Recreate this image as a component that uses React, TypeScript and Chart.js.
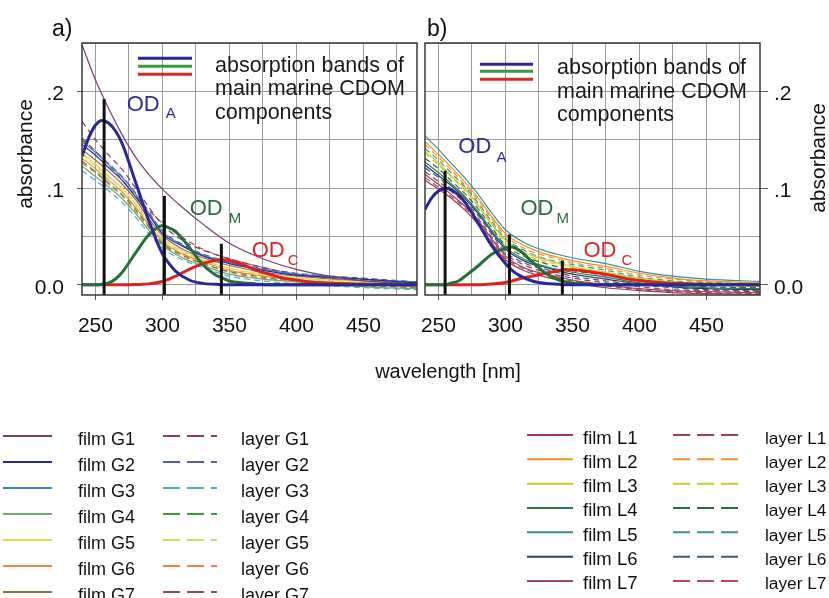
import React, { useEffect, useRef } from "react";
import { Chart, registerables } from "chart.js";

Chart.register(...registerables);

const FONT = "'Liberation Sans', Arial, Helvetica, sans-serif";

// ---------- axes ----------
const X_MIN = 240;
const X_MAX = 490;
const Y_MIN = -0.0105;
const Y_MAX = 0.25;
const X_TICKS = [250, 275, 300, 325, 350, 375, 400, 425, 450, 475];
const Y_TICKS = [0, 0.05, 0.1, 0.15, 0.2, 0.25];
const Y_TICK_LABELS = ["0.0", "", ".1", "", ".2", ""];

// ---------- wavelengths ----------
const WL = [240, 250, 260, 270, 280, 290, 300, 315, 330, 350, 375, 400, 425, 450, 490];
const BAND_WL = [240, 245, 250, 255, 260, 265, 270, 280, 290, 300, 305, 310, 320, 330, 340, 345, 350, 360, 370, 380, 390, 400, 410, 420, 430, 440, 460, 490];

// ---------- panel a: spectra ----------
const filmG1 = [0.248, 0.212, 0.182, 0.155, 0.132, 0.114, 0.099, 0.08, 0.063, 0.043, 0.027, 0.016, 0.009, 0.004, 0.001];
const filmG2 = [0.145, 0.134, 0.121, 0.108, 0.091, 0.072, 0.053, 0.04, 0.03, 0.022, 0.015, 0.01, 0.008, 0.006, 0.002];
const filmG3 = [0.148, 0.137, 0.124, 0.111, 0.094, 0.074, 0.055, 0.041, 0.031, 0.023, 0.016, 0.011, 0.009, 0.006, 0.003];
const filmG4 = [0.123, 0.112, 0.101, 0.089, 0.074, 0.056, 0.041, 0.028, 0.02, 0.011, 0.006, 0.003, 0.001, -0.002, -0.004];
const filmG5 = [0.136, 0.125, 0.112, 0.1, 0.084, 0.065, 0.048, 0.035, 0.026, 0.017, 0.011, 0.007, 0.005, 0.003, -0.001];
const filmG6 = [0.131, 0.12, 0.108, 0.096, 0.08, 0.062, 0.045, 0.032, 0.024, 0.015, 0.009, 0.005, 0.003, 0.001, -0.002];
const filmG7 = [0.14, 0.129, 0.117, 0.104, 0.088, 0.068, 0.051, 0.037, 0.028, 0.02, 0.013, 0.009, 0.006, 0.004, 0.001];
const layerG1 = [0.169, 0.15, 0.134, 0.119, 0.1, 0.08, 0.062, 0.046, 0.036, 0.027, 0.018, 0.011, 0.007, 0.005, 0.003];
const layerG2 = [0.15, 0.138, 0.125, 0.112, 0.095, 0.075, 0.056, 0.042, 0.032, 0.024, 0.017, 0.012, 0.009, 0.007, 0.003];
const layerG3 = [0.118, 0.108, 0.097, 0.085, 0.07, 0.053, 0.038, 0.026, 0.018, 0.009, 0.004, 0.001, -0.001, -0.003, -0.005];
const layerG4 = [0.128, 0.117, 0.105, 0.093, 0.078, 0.06, 0.043, 0.031, 0.022, 0.014, 0.008, 0.004, 0.002, 0.0, -0.003];
const layerG5 = [0.134, 0.123, 0.111, 0.099, 0.083, 0.064, 0.047, 0.034, 0.025, 0.017, 0.01, 0.007, 0.004, 0.002, -0.001];
const layerG6 = [0.126, 0.116, 0.104, 0.092, 0.076, 0.059, 0.042, 0.03, 0.022, 0.013, 0.007, 0.004, 0.002, -0.001, -0.003];
const layerG7 = [0.152, 0.138, 0.124, 0.108, 0.092, 0.077, 0.064, 0.049, 0.037, 0.027, 0.018, 0.011, 0.007, 0.004, 0.002];

// ---------- panel b: spectra ----------
const filmL1 = [0.108, 0.099, 0.089, 0.077, 0.062, 0.043, 0.026, 0.014, 0.008, 0.002, -0.003, -0.006, -0.008, -0.009, -0.01];
const filmL2 = [0.148, 0.135, 0.121, 0.106, 0.089, 0.07, 0.053, 0.04, 0.032, 0.025, 0.019, 0.012, 0.007, 0.004, 0.002];
const filmL3 = [0.138, 0.126, 0.112, 0.099, 0.082, 0.063, 0.046, 0.033, 0.026, 0.019, 0.013, 0.007, 0.003, 0.001, -0.001];
const filmL4 = [0.127, 0.116, 0.104, 0.091, 0.075, 0.056, 0.039, 0.026, 0.019, 0.013, 0.008, 0.002, -0.001, -0.003, -0.004];
const filmL5 = [0.154, 0.14, 0.125, 0.11, 0.093, 0.074, 0.057, 0.043, 0.035, 0.028, 0.022, 0.014, 0.009, 0.006, 0.0035];
const filmL6 = [0.124, 0.113, 0.102, 0.089, 0.073, 0.054, 0.037, 0.024, 0.018, 0.011, 0.006, 0.001, -0.002, -0.004, -0.005];
const filmL7 = [0.114, 0.104, 0.093, 0.081, 0.066, 0.047, 0.03, 0.017, 0.011, 0.005, 0.0, -0.004, -0.006, -0.007, -0.008];
const layerL1 = [0.117, 0.107, 0.096, 0.084, 0.068, 0.049, 0.032, 0.02, 0.013, 0.007, 0.002, -0.002, -0.005, -0.006, -0.007];
const layerL2 = [0.145, 0.132, 0.118, 0.103, 0.087, 0.068, 0.051, 0.037, 0.03, 0.023, 0.017, 0.01, 0.006, 0.003, 0.001];
const layerL3 = [0.136, 0.124, 0.111, 0.097, 0.081, 0.062, 0.044, 0.031, 0.024, 0.018, 0.012, 0.006, 0.002, 0.0, -0.002];
const layerL4 = [0.131, 0.12, 0.107, 0.094, 0.078, 0.059, 0.041, 0.029, 0.022, 0.015, 0.01, 0.004, 0.001, -0.002, -0.003];
const layerL5 = [0.141, 0.129, 0.115, 0.101, 0.084, 0.065, 0.048, 0.035, 0.027, 0.021, 0.015, 0.008, 0.004, 0.002, 0.0];
const layerL6 = [0.121, 0.111, 0.099, 0.086, 0.071, 0.052, 0.034, 0.022, 0.016, 0.009, 0.004, 0.0, -0.003, -0.005, -0.006];
const layerL7 = [0.111, 0.101, 0.091, 0.079, 0.064, 0.045, 0.028, 0.016, 0.01, 0.004, -0.001, -0.005, -0.007, -0.008, -0.009];

// ---------- absorption bands ----------
const bandA_a = [0.133, 0.152, 0.165, 0.17, 0.167, 0.159, 0.146, 0.106, 0.066, 0.032, 0.022, 0.014, 0.005, 0.0015, 0.0005, 0, 0, 0, 0, 0, 0, 0, 0, 0, 0, 0, 0, 0];
const bandM_a = [0, 0, 0, 0.0005, 0.002, 0.006, 0.013, 0.033, 0.052, 0.061, 0.059, 0.055, 0.039, 0.021, 0.01, 0.007, 0.004, 0.002, 0.001, 0, 0, 0, 0, 0, 0, 0, 0, 0];
const bandC_a = [0, 0, 0, 0, 0, 0, 0, 0.0003, 0.001, 0.0035, 0.006, 0.009, 0.016, 0.022, 0.0255, 0.026, 0.025, 0.021, 0.015, 0.011, 0.007, 0.005, 0.003, 0.002, 0.0015, 0.001, 0.0005, 0];
const bandA_b = [0.078, 0.09, 0.097, 0.1, 0.098, 0.093, 0.085, 0.063, 0.04, 0.022, 0.015, 0.01, 0.004, 0.0015, 0.0005, 0, 0, 0, 0, 0, 0, 0, 0, 0, 0, 0, 0, 0];
const bandM_b = [0, 0, 0, 0, 0.002, 0.004, 0.009, 0.02, 0.032, 0.038, 0.039, 0.036, 0.024, 0.012, 0.005, 0.003, 0.002, 0.001, 0, 0, 0, 0, 0, 0, 0, 0, 0, 0];
const bandC_b = [0, 0, 0, 0, 0, 0, 0, 0, 0.0008, 0.0025, 0.004, 0.006, 0.009, 0.012, 0.0148, 0.0155, 0.0155, 0.014, 0.012, 0.0095, 0.0065, 0.0045, 0.003, 0.002, 0.0015, 0.001, 0.0005, 0];

// band centre markers (wavelength, height)
const markerWl_a = [256.5, 301.5, 344];
const markerTop_a = [0.192, 0.092, 0.0425];
const markerWl_b = [255, 303, 342.5];
const markerTop_b = [0.118, 0.052, 0.025];

// ---------- series lists ----------
type Series = { label: string; values: number[]; color: string; dashed: boolean };

const filmsG: Series[] = [
  { label: "film G1", values: filmG1, color: "#7a3b78", dashed: false },
  { label: "film G2", values: filmG2, color: "#2c2c8c", dashed: false },
  { label: "film G3", values: filmG3, color: "#3f7fd0", dashed: false },
  { label: "film G4", values: filmG4, color: "#72a872", dashed: false },
  { label: "film G5", values: filmG5, color: "#dcdc4a", dashed: false },
  { label: "film G6", values: filmG6, color: "#ea8a3c", dashed: false },
  { label: "film G7", values: filmG7, color: "#a5654f", dashed: false },
];
const layersG: Series[] = [
  { label: "layer G1", values: layerG1, color: "#8d3a6a", dashed: true },
  { label: "layer G2", values: layerG2, color: "#56628f", dashed: true },
  { label: "layer G3", values: layerG3, color: "#4aa8de", dashed: true },
  { label: "layer G4", values: layerG4, color: "#3c9a3c", dashed: true },
  { label: "layer G5", values: layerG5, color: "#d8d860", dashed: true },
  { label: "layer G6", values: layerG6, color: "#e8843c", dashed: true },
  { label: "layer G7", values: layerG7, color: "#9a4a48", dashed: true },
];
const filmsL: Series[] = [
  { label: "film L1", values: filmL1, color: "#9c3a4e", dashed: false },
  { label: "film L2", values: filmL2, color: "#eb9324", dashed: false },
  { label: "film L3", values: filmL3, color: "#c9c922", dashed: false },
  { label: "film L4", values: filmL4, color: "#2b7a4e", dashed: false },
  { label: "film L5", values: filmL5, color: "#3b8f8f", dashed: false },
  { label: "film L6", values: filmL6, color: "#2c3d6c", dashed: false },
  { label: "film L7", values: filmL7, color: "#9a4466", dashed: false },
];
const layersL: Series[] = [
  { label: "layer L1", values: layerL1, color: "#9c4252", dashed: true },
  { label: "layer L2", values: layerL2, color: "#eb9324", dashed: true },
  { label: "layer L3", values: layerL3, color: "#caca30", dashed: true },
  { label: "layer L4", values: layerL4, color: "#2b6c3c", dashed: true },
  { label: "layer L5", values: layerL5, color: "#3f9494", dashed: true },
  { label: "layer L6", values: layerL6, color: "#3b5b8b", dashed: true },
  { label: "layer L7", values: layerL7, color: "#b3456e", dashed: true },
];

const BAND_COLORS = ["#2a2896", "#25703a", "#e0201e"];
const KEY_COLORS = ["#2a2a8c", "#3a9a3a", "#d42a2a"];
const NOTE_LINES = ["absorption bands of", "main marine CDOM", "components"];

type Note = { text: string; x: number; y: number; size: number; color: string };
type KeyLine = { x0: number; x1: number; y: number; color: string };

type Panel = {
  series: Series[];
  bands: number[][];
  markerWl: number[];
  markerTop: number[];
  side: "left" | "right";
  padding: { left: number; right: number; top: number; bottom: number };
  axisWidth: number;
  tickLen: number;
  tickPad: number;
  notes: Note[];
  keyLines: KeyLine[];
  letter: string;
  letterX: number;
  letterY: number;
  titleX: number;
  titleY: number;
};

function odNotes(pos: number[][], subs: string[]): Note[] {
  const colors = ["#2e2e96", "#2a6e3a", "#d62828"];
  const out: Note[] = [];
  pos.forEach((p, i) => {
    out.push({ text: "OD", x: p[0], y: p[1], size: 22, color: colors[i] });
    out.push({ text: subs[i], x: p[2], y: p[3], size: 15, color: colors[i] });
  });
  return out;
}

const panelA: Panel = {
  series: [...filmsG, ...layersG],
  bands: [bandA_a, bandM_a, bandC_a],
  markerWl: markerWl_a,
  markerTop: markerTop_a,
  side: "left",
  padding: { left: 0, right: 3, top: 43, bottom: 0 },
  axisWidth: 82,
  tickLen: 5,
  tickPad: 13,
  notes: [
    ...odNotes(
      [
        [273.4, 0.1793, 302.5, 0.172],
        [320.4, 0.0725, 349.5, 0.0642],
        [366.6, 0.029, 393.5, 0.0207],
      ],
      ["A", "M", "C"]
    ),
    ...NOTE_LINES.map((t, i) => ({ text: t, x: 339.3, y: [0.2197, 0.1959, 0.171][i], size: 21.5, color: "#1a1a1a" })),
  ],
  keyLines: KEY_COLORS.map((c, i) => ({ x0: 281.8, x1: 322.1, y: [0.2342, 0.2259, 0.2176][i], color: c })),
  letter: "a)",
  letterX: 52,
  letterY: 36,
  titleX: 32,
  titleY: 154,
};

const panelB: Panel = {
  series: [...filmsL, ...layersL],
  bands: [bandA_b, bandM_b, bandC_b],
  markerWl: markerWl_b,
  markerTop: markerTop_b,
  side: "right",
  padding: { left: 5, right: 0, top: 43, bottom: 0 },
  axisWidth: 69,
  tickLen: 8,
  tickPad: 6,
  notes: [
    ...odNotes(
      [
        [264.9, 0.1358, 293.3, 0.1275],
        [311.2, 0.0725, 338.1, 0.0642],
        [358.2, 0.029, 386.6, 0.0207],
      ],
      ["A", "M", "C"]
    ),
    ...NOTE_LINES.map((t, i) => ({ text: t, x: 338.5, y: [0.2176, 0.1927, 0.1689][i], size: 21.5, color: "#1a1a1a" })),
  ],
  keyLines: KEY_COLORS.map((c, i) => ({ x0: 281, x1: 320.6, y: [0.228, 0.2207, 0.2124][i], color: c })),
  letter: "b)",
  letterX: 7,
  letterY: 36,
  titleX: 405,
  titleY: 158,
};

function decoPlugin(p: Panel) {
  return {
    id: "deco" + p.side,
    afterDatasetsDraw(chart: any) {
      const { ctx, scales } = chart;
      const xs = scales.x;
      const ys = scales.y;
      ctx.save();
      ctx.lineWidth = 3;
      p.keyLines.forEach((k) => {
        ctx.strokeStyle = k.color;
        ctx.beginPath();
        ctx.moveTo(xs.getPixelForValue(k.x0), ys.getPixelForValue(k.y));
        ctx.lineTo(xs.getPixelForValue(k.x1), ys.getPixelForValue(k.y));
        ctx.stroke();
      });
      ctx.textAlign = "left";
      ctx.textBaseline = "alphabetic";
      p.notes.forEach((n) => {
        ctx.font = `${n.size}px ${FONT}`;
        ctx.fillStyle = n.color;
        ctx.fillText(n.text, xs.getPixelForValue(n.x), ys.getPixelForValue(n.y));
      });
      ctx.restore();
    },
    afterDraw(chart: any) {
      const { ctx, chartArea: a } = chart;
      ctx.save();
      ctx.strokeStyle = "#3a3a3a";
      ctx.lineWidth = 1.5;
      ctx.strokeRect(a.left, a.top, a.right - a.left, a.bottom - a.top);
      ctx.fillStyle = "#111";
      ctx.textAlign = "left";
      ctx.textBaseline = "alphabetic";
      ctx.font = `23px ${FONT}`;
      ctx.fillText(p.letter, p.letterX, p.letterY);
      ctx.translate(p.titleX, p.titleY);
      ctx.rotate(-Math.PI / 2);
      ctx.textAlign = "center";
      ctx.font = `21px ${FONT}`;
      ctx.fillText("absorbance", 0, 0);
      ctx.restore();
    },
  };
}

function buildConfig(p: Panel): any {
  const datasets: any[] = [];
  p.markerWl.forEach((w, i) => {
    datasets.push({
      data: [
        { x: w, y: Y_MIN - 0.01 },
        { x: w, y: p.markerTop[i] },
      ],
      borderColor: "#111",
      borderWidth: 3,
      pointRadius: 0,
    });
  });
  p.bands.forEach((b, i) => {
    datasets.push({
      data: BAND_WL.map((w, j) => ({ x: w, y: b[j] })),
      borderColor: BAND_COLORS[i],
      borderWidth: 3,
      pointRadius: 0,
      cubicInterpolationMode: "monotone",
    });
  });
  p.series.forEach((s) => {
    datasets.push({
      data: WL.map((w, j) => ({ x: w, y: s.values[j] })),
      borderColor: s.color,
      borderWidth: 1.2,
      borderDash: s.dashed ? [6, 4] : [],
      pointRadius: 0,
      cubicInterpolationMode: "monotone",
    });
  });

  const gridColor = "#9a9a9a";
  return {
    type: "line",
    data: { datasets },
    options: {
      animation: false,
      responsive: false,
      maintainAspectRatio: false,
      devicePixelRatio: 1,
      layout: { padding: p.padding },
      plugins: { legend: { display: false }, tooltip: { enabled: false } },
      scales: {
        x: {
          type: "linear",
          min: X_MIN,
          max: X_MAX,
          afterBuildTicks: (s: any) => {
            s.ticks = X_TICKS.map((v) => ({ value: v }));
          },
          afterFit: (s: any) => {
            s.height = 50;
            s.paddingLeft = 0;
            s.paddingRight = 0;
          },
          border: { display: false },
          grid: {
            color: gridColor,
            lineWidth: 1,
            tickLength: 5,
            tickColor: (c: any) => (c.tick && c.tick.value % 50 === 0 ? "#555" : "rgba(0,0,0,0)"),
          },
          ticks: {
            autoSkip: false,
            maxRotation: 0,
            padding: 14,
            color: "#111",
            font: { size: 21, family: FONT },
            callback: (v: number) => (v % 50 === 0 ? String(v) : ""),
          },
        },
        y: {
          type: "linear",
          position: p.side,
          min: Y_MIN,
          max: Y_MAX,
          afterBuildTicks: (s: any) => {
            s.ticks = Y_TICKS.map((v) => ({ value: v }));
          },
          afterFit: (s: any) => {
            s.width = p.axisWidth;
            s.paddingTop = 0;
            s.paddingBottom = 0;
          },
          border: { display: false },
          grid: {
            color: gridColor,
            lineWidth: 1,
            tickLength: p.tickLen,
            tickColor: (c: any) => (Y_TICK_LABELS[c.index] ? "#555" : "rgba(0,0,0,0)"),
          },
          ticks: {
            padding: p.tickPad,
            crossAlign: "near",
            labelOffset: 3,
            color: "#111",
            font: { size: 21, family: FONT },
            callback: (_v: number, i: number) => Y_TICK_LABELS[i],
          },
        },
      },
    },
    plugins: [decoPlugin(p)],
  };
}

const G_ROW0 = 436;
const G_STEP = 26;
const L_ROW0 = 435;
const L_STEP = 24.33;

function Legend() {
  const items: any[] = [];
  filmsG.forEach((s, i) => {
    const y = G_ROW0 + i * G_STEP;
    const l = layersG[i];
    items.push(
      <g key={"g" + i}>
        <line x1={3} x2={52} y1={y} y2={y} stroke={s.color} strokeWidth={2} />
        <text x={78} y={y + 8.5} fontSize={18}>{s.label}</text>
        <line x1={163} x2={217} y1={y} y2={y} stroke={l.color} strokeWidth={2} strokeDasharray="17 7" />
        <text x={241} y={y + 8.5} fontSize={18}>{l.label}</text>
      </g>
    );
  });
  filmsL.forEach((s, i) => {
    const y = L_ROW0 + i * L_STEP;
    const l = layersL[i];
    items.push(
      <g key={"l" + i}>
        <line x1={527} x2={573} y1={y} y2={y} stroke={s.color} strokeWidth={2} />
        <text x={583} y={y + 8.5} fontSize={18.5}>{s.label}</text>
        <line x1={673} x2={738} y1={y} y2={y} stroke={l.color} strokeWidth={2} strokeDasharray="17 7" />
        <text x={765} y={y + 8.5} fontSize={17.3}>{l.label}</text>
      </g>
    );
  });
  return (
    <svg
      width={829}
      height={598}
      style={{ position: "absolute", left: 0, top: 0, pointerEvents: "none" }}
      fontFamily={FONT}
      fill="#111"
    >
      <text x={448} y={378} fontSize={20} textAnchor="middle">wavelength [nm]</text>
      {items}
    </svg>
  );
}

export default function App() {
  const refA = useRef<HTMLCanvasElement>(null);
  const refB = useRef<HTMLCanvasElement>(null);
  useEffect(() => {
    const a = new Chart(refA.current as HTMLCanvasElement, buildConfig(panelA));
    const b = new Chart(refB.current as HTMLCanvasElement, buildConfig(panelB));
    return () => {
      a.destroy();
      b.destroy();
    };
  }, []);
  return (
    <div
      style={{
        position: "fixed",
        left: 0,
        top: 0,
        width: 829,
        height: 598,
        background: "#fff",
        overflow: "hidden",
      }}
    >
      <canvas ref={refA} width={420} height={345} style={{ position: "absolute", left: 0, top: 0, width: 420, height: 345 }} />
      <canvas ref={refB} width={409} height={345} style={{ position: "absolute", left: 420, top: 0, width: 409, height: 345 }} />
      <Legend />
    </div>
  );
}
